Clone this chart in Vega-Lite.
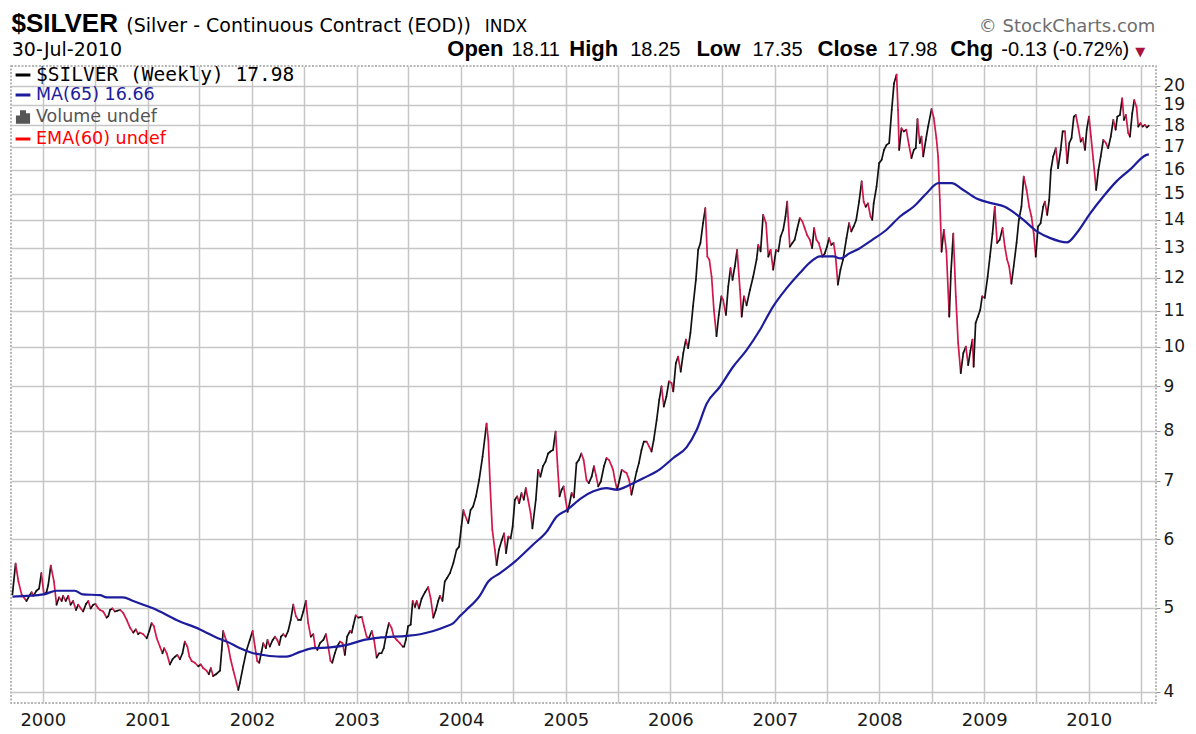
{
  "$schema": "https://vega.github.io/schema/vega-lite/v6.json",
  "autosize": {"type": "none"},
  "width": 1145,
  "height": 637,
  "padding": {"left": 11, "top": 66, "right": 40, "bottom": 31},
  "background": "white",
  "params": [
    {"name": "hdr", "value": {
      "1999-09-12": "$SILVER",
      "2000-10-17": "(Silver - Continuous Contract (EOD))",
      "2004-03-22": "INDX",
      "2010-08-20": "© StockCharts.com",
      "1999-09-13": "30-Jul-2010",
      "2003-11-12": "Open",
      "2004-06-23": "18.11",
      "2005-01-11": "High",
      "2005-08-12": "18.25",
      "2006-03-31": "Low",
      "2006-10-13": "17.35",
      "2007-05-28": "Close",
      "2008-01-27": "17.98",
      "2008-09-03": "Chg",
      "2009-02-28": "-0.13 (-0.72%)",
      "2010-06-11": "▼"
    }}
  ],
  "datasets": {
    "price": [
      {"date": "1999-09-17", "close": 5.18}, {"date": "1999-09-28", "close": 5.62}, {"date": "1999-10-08", "close": 5.36}, {"date": "1999-10-19", "close": 5.18},
      {"date": "1999-11-05", "close": 5.09}, {"date": "1999-11-15", "close": 5.16}, {"date": "1999-11-23", "close": 5.21}, {"date": "1999-11-29", "close": 5.16},
      {"date": "1999-12-10", "close": 5.23}, {"date": "1999-12-19", "close": 5.26}, {"date": "1999-12-27", "close": 5.48}, {"date": "2000-01-05", "close": 5.18},
      {"date": "2000-01-14", "close": 5.21}, {"date": "2000-01-20", "close": 5.31}, {"date": "2000-01-29", "close": 5.59}, {"date": "2000-02-09", "close": 5.36},
      {"date": "2000-02-18", "close": 5.04}, {"date": "2000-02-27", "close": 5.14}, {"date": "2000-03-07", "close": 5.09}, {"date": "2000-03-12", "close": 5.16},
      {"date": "2000-03-21", "close": 5.09}, {"date": "2000-03-30", "close": 5.16}, {"date": "2000-04-07", "close": 5.04}, {"date": "2000-04-16", "close": 5.09},
      {"date": "2000-04-26", "close": 4.97}, {"date": "2000-05-04", "close": 5.04}, {"date": "2000-05-13", "close": 4.99}, {"date": "2000-05-21", "close": 4.95},
      {"date": "2000-05-31", "close": 5.05}, {"date": "2000-06-08", "close": 5.09}, {"date": "2000-06-16", "close": 4.99}, {"date": "2000-06-25", "close": 5.04},
      {"date": "2000-07-03", "close": 5.05}, {"date": "2000-07-13", "close": 4.99}, {"date": "2000-07-19", "close": 4.97}, {"date": "2000-07-30", "close": 4.95},
      {"date": "2000-08-11", "close": 4.87}, {"date": "2000-08-17", "close": 4.89}, {"date": "2000-08-23", "close": 4.97}, {"date": "2000-08-31", "close": 4.99},
      {"date": "2000-09-09", "close": 4.95}, {"date": "2000-09-17", "close": 4.96}, {"date": "2000-09-27", "close": 4.97}, {"date": "2000-10-08", "close": 4.93},
      {"date": "2000-10-20", "close": 4.84}, {"date": "2000-11-01", "close": 4.74}, {"date": "2000-11-12", "close": 4.68}, {"date": "2000-11-21", "close": 4.72},
      {"date": "2000-11-29", "close": 4.66}, {"date": "2000-12-05", "close": 4.68}, {"date": "2000-12-17", "close": 4.66}, {"date": "2000-12-29", "close": 4.61},
      {"date": "2001-01-07", "close": 4.70}, {"date": "2001-01-15", "close": 4.80}, {"date": "2001-01-23", "close": 4.76}, {"date": "2001-02-02", "close": 4.61},
      {"date": "2001-02-13", "close": 4.51}, {"date": "2001-02-22", "close": 4.43}, {"date": "2001-02-28", "close": 4.49}, {"date": "2001-03-09", "close": 4.43},
      {"date": "2001-03-20", "close": 4.30}, {"date": "2001-03-29", "close": 4.36}, {"date": "2001-04-07", "close": 4.39}, {"date": "2001-04-15", "close": 4.41},
      {"date": "2001-04-24", "close": 4.36}, {"date": "2001-05-03", "close": 4.43}, {"date": "2001-05-11", "close": 4.57}, {"date": "2001-05-20", "close": 4.51},
      {"date": "2001-05-27", "close": 4.39}, {"date": "2001-06-04", "close": 4.34}, {"date": "2001-06-15", "close": 4.32}, {"date": "2001-06-27", "close": 4.28},
      {"date": "2001-07-06", "close": 4.30}, {"date": "2001-07-14", "close": 4.26}, {"date": "2001-07-26", "close": 4.23}, {"date": "2001-08-03", "close": 4.19},
      {"date": "2001-08-10", "close": 4.26}, {"date": "2001-08-18", "close": 4.17}, {"date": "2001-08-28", "close": 4.19}, {"date": "2001-09-11", "close": 4.23},
      {"date": "2001-09-17", "close": 4.47}, {"date": "2001-09-22", "close": 4.70}, {"date": "2001-10-02", "close": 4.59}, {"date": "2001-10-10", "close": 4.51},
      {"date": "2001-10-18", "close": 4.36}, {"date": "2001-10-27", "close": 4.24}, {"date": "2001-11-08", "close": 4.09}, {"date": "2001-11-14", "close": 4.02},
      {"date": "2001-11-19", "close": 4.09}, {"date": "2001-12-01", "close": 4.28}, {"date": "2001-12-13", "close": 4.47}, {"date": "2001-12-24", "close": 4.59},
      {"date": "2002-01-03", "close": 4.70}, {"date": "2002-01-11", "close": 4.51}, {"date": "2002-01-19", "close": 4.34}, {"date": "2002-01-26", "close": 4.32},
      {"date": "2002-02-03", "close": 4.45}, {"date": "2002-02-09", "close": 4.55}, {"date": "2002-02-18", "close": 4.49}, {"date": "2002-02-24", "close": 4.59},
      {"date": "2002-03-04", "close": 4.51}, {"date": "2002-03-14", "close": 4.59}, {"date": "2002-03-22", "close": 4.63}, {"date": "2002-03-30", "close": 4.59},
      {"date": "2002-04-06", "close": 4.53}, {"date": "2002-04-12", "close": 4.63}, {"date": "2002-04-20", "close": 4.66}, {"date": "2002-04-28", "close": 4.63},
      {"date": "2002-05-07", "close": 4.70}, {"date": "2002-05-16", "close": 4.84}, {"date": "2002-05-25", "close": 5.04}, {"date": "2002-06-03", "close": 4.89},
      {"date": "2002-06-11", "close": 4.84}, {"date": "2002-06-20", "close": 4.84}, {"date": "2002-06-29", "close": 4.95}, {"date": "2002-07-08", "close": 5.09},
      {"date": "2002-07-16", "close": 4.80}, {"date": "2002-07-25", "close": 4.63}, {"date": "2002-08-03", "close": 4.66}, {"date": "2002-08-09", "close": 4.51},
      {"date": "2002-08-17", "close": 4.47}, {"date": "2002-08-26", "close": 4.55}, {"date": "2002-09-07", "close": 4.59}, {"date": "2002-09-16", "close": 4.66},
      {"date": "2002-09-24", "close": 4.51}, {"date": "2002-10-02", "close": 4.34}, {"date": "2002-10-08", "close": 4.32}, {"date": "2002-10-17", "close": 4.43},
      {"date": "2002-10-25", "close": 4.51}, {"date": "2002-11-04", "close": 4.57}, {"date": "2002-11-13", "close": 4.55}, {"date": "2002-11-21", "close": 4.41},
      {"date": "2002-11-29", "close": 4.63}, {"date": "2002-12-09", "close": 4.70}, {"date": "2002-12-15", "close": 4.68}, {"date": "2002-12-20", "close": 4.76},
      {"date": "2002-12-29", "close": 4.90}, {"date": "2003-01-07", "close": 4.87}, {"date": "2003-01-19", "close": 4.88}, {"date": "2003-01-27", "close": 4.76},
      {"date": "2003-02-05", "close": 4.63}, {"date": "2003-02-13", "close": 4.61}, {"date": "2003-02-23", "close": 4.70}, {"date": "2003-03-03", "close": 4.59},
      {"date": "2003-03-12", "close": 4.38}, {"date": "2003-03-21", "close": 4.43}, {"date": "2003-03-29", "close": 4.43}, {"date": "2003-04-06", "close": 4.49},
      {"date": "2003-04-16", "close": 4.68}, {"date": "2003-04-24", "close": 4.80}, {"date": "2003-05-03", "close": 4.74}, {"date": "2003-05-11", "close": 4.63},
      {"date": "2003-05-21", "close": 4.59}, {"date": "2003-06-01", "close": 4.55}, {"date": "2003-06-11", "close": 4.51}, {"date": "2003-06-16", "close": 4.51},
      {"date": "2003-06-22", "close": 4.59}, {"date": "2003-06-30", "close": 4.76}, {"date": "2003-07-09", "close": 4.78}, {"date": "2003-07-16", "close": 5.09},
      {"date": "2003-07-24", "close": 5.01}, {"date": "2003-07-30", "close": 5.09}, {"date": "2003-08-07", "close": 4.99}, {"date": "2003-08-16", "close": 5.12},
      {"date": "2003-08-28", "close": 5.21}, {"date": "2003-09-08", "close": 5.28}, {"date": "2003-09-17", "close": 5.12}, {"date": "2003-09-26", "close": 4.87},
      {"date": "2003-10-05", "close": 4.97}, {"date": "2003-10-13", "close": 5.09}, {"date": "2003-10-19", "close": 5.16}, {"date": "2003-10-28", "close": 5.09},
      {"date": "2003-11-05", "close": 5.36}, {"date": "2003-11-13", "close": 5.41}, {"date": "2003-11-23", "close": 5.48}, {"date": "2003-12-05", "close": 5.63},
      {"date": "2003-12-16", "close": 5.83}, {"date": "2003-12-25", "close": 5.88}, {"date": "2004-01-02", "close": 6.20}, {"date": "2004-01-09", "close": 6.48},
      {"date": "2004-01-14", "close": 6.40}, {"date": "2004-01-26", "close": 6.26}, {"date": "2004-02-03", "close": 6.48}, {"date": "2004-02-12", "close": 6.54},
      {"date": "2004-02-22", "close": 6.72}, {"date": "2004-03-04", "close": 7.02}, {"date": "2004-03-16", "close": 7.47}, {"date": "2004-03-30", "close": 8.15},
      {"date": "2004-04-05", "close": 7.81}, {"date": "2004-04-11", "close": 6.96}, {"date": "2004-04-19", "close": 6.15}, {"date": "2004-04-28", "close": 5.83},
      {"date": "2004-05-04", "close": 5.60}, {"date": "2004-05-12", "close": 5.83}, {"date": "2004-05-22", "close": 5.98}, {"date": "2004-05-30", "close": 6.09},
      {"date": "2004-06-06", "close": 5.78}, {"date": "2004-06-14", "close": 6.04}, {"date": "2004-06-22", "close": 6.01}, {"date": "2004-06-29", "close": 6.20},
      {"date": "2004-07-07", "close": 6.66}, {"date": "2004-07-15", "close": 6.72}, {"date": "2004-07-22", "close": 6.60}, {"date": "2004-07-30", "close": 6.78},
      {"date": "2004-08-07", "close": 6.66}, {"date": "2004-08-14", "close": 6.87}, {"date": "2004-08-22", "close": 6.66}, {"date": "2004-08-31", "close": 6.42},
      {"date": "2004-09-06", "close": 6.17}, {"date": "2004-09-18", "close": 6.66}, {"date": "2004-09-26", "close": 7.21}, {"date": "2004-10-04", "close": 7.08},
      {"date": "2004-10-13", "close": 7.28}, {"date": "2004-10-22", "close": 7.37}, {"date": "2004-10-31", "close": 7.53}, {"date": "2004-11-08", "close": 7.57},
      {"date": "2004-11-17", "close": 7.60}, {"date": "2004-11-26", "close": 7.98}, {"date": "2004-12-03", "close": 7.28}, {"date": "2004-12-10", "close": 6.72},
      {"date": "2004-12-17", "close": 6.84}, {"date": "2004-12-24", "close": 6.90}, {"date": "2004-12-31", "close": 6.66}, {"date": "2005-01-07", "close": 6.45},
      {"date": "2005-01-14", "close": 6.60}, {"date": "2005-01-21", "close": 6.78}, {"date": "2005-01-29", "close": 6.70}, {"date": "2005-02-07", "close": 7.34},
      {"date": "2005-02-15", "close": 7.40}, {"date": "2005-02-24", "close": 7.53}, {"date": "2005-03-04", "close": 7.40}, {"date": "2005-03-14", "close": 7.02},
      {"date": "2005-03-22", "close": 6.96}, {"date": "2005-04-01", "close": 7.08}, {"date": "2005-04-09", "close": 7.28}, {"date": "2005-04-16", "close": 7.11},
      {"date": "2005-04-24", "close": 6.90}, {"date": "2005-05-03", "close": 6.99}, {"date": "2005-05-14", "close": 7.28}, {"date": "2005-05-23", "close": 7.44},
      {"date": "2005-06-01", "close": 7.40}, {"date": "2005-06-10", "close": 7.28}, {"date": "2005-06-15", "close": 7.21}, {"date": "2005-06-21", "close": 7.02},
      {"date": "2005-06-29", "close": 6.84}, {"date": "2005-07-06", "close": 6.99}, {"date": "2005-07-15", "close": 7.21}, {"date": "2005-07-23", "close": 7.18},
      {"date": "2005-08-01", "close": 7.15}, {"date": "2005-08-10", "close": 7.02}, {"date": "2005-08-18", "close": 6.75}, {"date": "2005-08-27", "close": 6.96},
      {"date": "2005-09-05", "close": 7.18}, {"date": "2005-09-13", "close": 7.34}, {"date": "2005-09-22", "close": 7.60}, {"date": "2005-09-30", "close": 7.77},
      {"date": "2005-10-10", "close": 7.77}, {"date": "2005-10-19", "close": 7.67}, {"date": "2005-10-27", "close": 7.57}, {"date": "2005-11-04", "close": 7.81},
      {"date": "2005-11-14", "close": 8.23}, {"date": "2005-11-23", "close": 8.68}, {"date": "2005-12-01", "close": 9.00}, {"date": "2005-12-09", "close": 8.53},
      {"date": "2005-12-18", "close": 8.76}, {"date": "2005-12-27", "close": 9.12}, {"date": "2006-01-05", "close": 9.08}, {"date": "2006-01-11", "close": 8.88},
      {"date": "2006-01-20", "close": 9.57}, {"date": "2006-01-28", "close": 9.74}, {"date": "2006-02-06", "close": 9.36}, {"date": "2006-02-15", "close": 9.83},
      {"date": "2006-02-24", "close": 10.19}, {"date": "2006-03-04", "close": 9.96}, {"date": "2006-03-12", "close": 10.37}, {"date": "2006-03-21", "close": 11.13},
      {"date": "2006-03-31", "close": 11.94}, {"date": "2006-04-08", "close": 12.93}, {"date": "2006-04-16", "close": 13.17}, {"date": "2006-04-25", "close": 13.88},
      {"date": "2006-05-03", "close": 14.45}, {"date": "2006-05-10", "close": 12.70}, {"date": "2006-05-17", "close": 12.60}, {"date": "2006-05-25", "close": 12.04},
      {"date": "2006-06-02", "close": 11.02}, {"date": "2006-06-11", "close": 10.28}, {"date": "2006-06-19", "close": 10.88}, {"date": "2006-06-28", "close": 11.43},
      {"date": "2006-07-04", "close": 11.33}, {"date": "2006-07-14", "close": 10.88}, {"date": "2006-07-22", "close": 11.73}, {"date": "2006-07-30", "close": 12.32},
      {"date": "2006-08-06", "close": 11.94}, {"date": "2006-08-14", "close": 12.38}, {"date": "2006-08-22", "close": 12.93}, {"date": "2006-09-01", "close": 11.63},
      {"date": "2006-09-07", "close": 10.83}, {"date": "2006-09-15", "close": 11.43}, {"date": "2006-09-24", "close": 11.16}, {"date": "2006-10-06", "close": 11.63},
      {"date": "2006-10-17", "close": 12.04}, {"date": "2006-10-29", "close": 12.60}, {"date": "2006-11-04", "close": 13.10}, {"date": "2006-11-12", "close": 12.88},
      {"date": "2006-11-21", "close": 14.19}, {"date": "2006-12-01", "close": 13.88}, {"date": "2006-12-09", "close": 12.70}, {"date": "2006-12-17", "close": 12.93},
      {"date": "2006-12-26", "close": 12.27}, {"date": "2007-01-05", "close": 12.93}, {"date": "2007-01-13", "close": 12.88}, {"date": "2007-01-21", "close": 13.40},
      {"date": "2007-01-30", "close": 13.64}, {"date": "2007-02-07", "close": 14.13}, {"date": "2007-02-13", "close": 14.70}, {"date": "2007-02-22", "close": 13.04},
      {"date": "2007-03-03", "close": 13.17}, {"date": "2007-03-11", "close": 13.28}, {"date": "2007-03-19", "close": 13.64}, {"date": "2007-03-29", "close": 14.07},
      {"date": "2007-04-07", "close": 13.94}, {"date": "2007-04-15", "close": 13.70}, {"date": "2007-04-23", "close": 13.46}, {"date": "2007-05-03", "close": 13.28},
      {"date": "2007-05-11", "close": 12.99}, {"date": "2007-05-18", "close": 13.70}, {"date": "2007-05-26", "close": 13.28}, {"date": "2007-06-03", "close": 13.17},
      {"date": "2007-06-10", "close": 12.93}, {"date": "2007-06-16", "close": 12.70}, {"date": "2007-06-24", "close": 12.81}, {"date": "2007-07-02", "close": 13.04},
      {"date": "2007-07-09", "close": 13.34}, {"date": "2007-07-17", "close": 13.10}, {"date": "2007-07-25", "close": 13.17}, {"date": "2007-08-01", "close": 12.70},
      {"date": "2007-08-09", "close": 11.79}, {"date": "2007-08-18", "close": 12.27}, {"date": "2007-08-27", "close": 12.60}, {"date": "2007-09-08", "close": 13.34},
      {"date": "2007-09-17", "close": 13.88}, {"date": "2007-09-25", "close": 13.58}, {"date": "2007-10-03", "close": 13.76}, {"date": "2007-10-12", "close": 14.00},
      {"date": "2007-10-22", "close": 14.70}, {"date": "2007-10-31", "close": 15.51}, {"date": "2007-11-07", "close": 14.70}, {"date": "2007-11-14", "close": 14.50},
      {"date": "2007-11-22", "close": 14.63}, {"date": "2007-12-01", "close": 14.13}, {"date": "2007-12-07", "close": 14.00}, {"date": "2007-12-12", "close": 14.63},
      {"date": "2007-12-22", "close": 15.30}, {"date": "2007-12-31", "close": 16.28}, {"date": "2008-01-09", "close": 16.43}, {"date": "2008-01-17", "close": 16.86},
      {"date": "2008-01-26", "close": 17.09}, {"date": "2008-02-04", "close": 17.17}, {"date": "2008-02-13", "close": 18.75}, {"date": "2008-02-21", "close": 20.12},
      {"date": "2008-03-01", "close": 20.60}, {"date": "2008-03-06", "close": 18.75}, {"date": "2008-03-10", "close": 16.86}, {"date": "2008-03-18", "close": 17.86},
      {"date": "2008-03-26", "close": 17.71}, {"date": "2008-04-04", "close": 17.79}, {"date": "2008-04-13", "close": 17.09}, {"date": "2008-04-22", "close": 16.50},
      {"date": "2008-04-30", "close": 16.86}, {"date": "2008-05-07", "close": 16.94}, {"date": "2008-05-13", "close": 18.30}, {"date": "2008-05-21", "close": 17.17},
      {"date": "2008-05-27", "close": 17.47}, {"date": "2008-06-02", "close": 16.57}, {"date": "2008-06-11", "close": 17.32}, {"date": "2008-06-19", "close": 17.94},
      {"date": "2008-07-01", "close": 18.79}, {"date": "2008-07-09", "close": 18.35}, {"date": "2008-07-18", "close": 17.39}, {"date": "2008-07-24", "close": 16.57},
      {"date": "2008-07-30", "close": 14.77}, {"date": "2008-08-05", "close": 12.87}, {"date": "2008-08-13", "close": 13.64}, {"date": "2008-08-22", "close": 12.87},
      {"date": "2008-09-01", "close": 10.83}, {"date": "2008-09-07", "close": 12.20}, {"date": "2008-09-15", "close": 13.50}, {"date": "2008-09-24", "close": 11.42},
      {"date": "2008-10-02", "close": 10.10}, {"date": "2008-10-11", "close": 9.32}, {"date": "2008-10-20", "close": 9.83}, {"date": "2008-10-29", "close": 10.00},
      {"date": "2008-11-06", "close": 9.52}, {"date": "2008-11-14", "close": 9.90}, {"date": "2008-11-21", "close": 10.19}, {"date": "2008-11-25", "close": 9.48},
      {"date": "2008-12-02", "close": 10.65}, {"date": "2008-12-10", "close": 10.83}, {"date": "2008-12-18", "close": 11.02}, {"date": "2008-12-25", "close": 11.43},
      {"date": "2009-01-03", "close": 11.38}, {"date": "2009-01-13", "close": 12.04}, {"date": "2009-01-21", "close": 12.70}, {"date": "2009-01-30", "close": 13.50},
      {"date": "2009-02-07", "close": 14.50}, {"date": "2009-02-15", "close": 13.17}, {"date": "2009-02-24", "close": 13.28}, {"date": "2009-03-06", "close": 13.70},
      {"date": "2009-03-14", "close": 13.04}, {"date": "2009-03-22", "close": 12.60}, {"date": "2009-03-29", "close": 12.38}, {"date": "2009-04-06", "close": 11.82},
      {"date": "2009-04-14", "close": 12.38}, {"date": "2009-04-24", "close": 13.17}, {"date": "2009-05-02", "close": 14.00}, {"date": "2009-05-11", "close": 14.50},
      {"date": "2009-05-19", "close": 15.71}, {"date": "2009-05-29", "close": 15.16}, {"date": "2009-06-07", "close": 14.50}, {"date": "2009-06-15", "close": 14.13},
      {"date": "2009-06-23", "close": 13.50}, {"date": "2009-06-30", "close": 12.70}, {"date": "2009-07-08", "close": 13.76}, {"date": "2009-07-17", "close": 13.88},
      {"date": "2009-07-26", "close": 14.50}, {"date": "2009-08-01", "close": 14.70}, {"date": "2009-08-09", "close": 14.19}, {"date": "2009-08-16", "close": 14.77},
      {"date": "2009-08-22", "close": 15.99}, {"date": "2009-08-30", "close": 16.57}, {"date": "2009-09-08", "close": 16.94}, {"date": "2009-09-16", "close": 16.06},
      {"date": "2009-09-25", "close": 16.86}, {"date": "2009-10-02", "close": 17.71}, {"date": "2009-10-10", "close": 17.71}, {"date": "2009-10-18", "close": 16.28},
      {"date": "2009-10-25", "close": 17.17}, {"date": "2009-11-02", "close": 17.40}, {"date": "2009-11-10", "close": 18.42}, {"date": "2009-11-17", "close": 18.50},
      {"date": "2009-11-25", "close": 17.94}, {"date": "2009-12-04", "close": 17.24}, {"date": "2009-12-11", "close": 17.40}, {"date": "2009-12-19", "close": 16.86},
      {"date": "2009-12-25", "close": 17.79}, {"date": "2010-01-02", "close": 18.42}, {"date": "2010-01-09", "close": 17.47}, {"date": "2010-01-17", "close": 16.43},
      {"date": "2010-01-27", "close": 15.16}, {"date": "2010-02-04", "close": 15.99}, {"date": "2010-02-12", "close": 16.57}, {"date": "2010-02-21", "close": 17.32},
      {"date": "2010-03-02", "close": 17.17}, {"date": "2010-03-10", "close": 16.94}, {"date": "2010-03-19", "close": 17.47}, {"date": "2010-03-28", "close": 18.26},
      {"date": "2010-04-05", "close": 17.79}, {"date": "2010-04-11", "close": 18.42}, {"date": "2010-04-20", "close": 18.50}, {"date": "2010-04-28", "close": 19.34},
      {"date": "2010-05-04", "close": 18.26}, {"date": "2010-05-11", "close": 18.50}, {"date": "2010-05-19", "close": 17.63}, {"date": "2010-05-25", "close": 17.47},
      {"date": "2010-06-02", "close": 18.58}, {"date": "2010-06-09", "close": 19.25}, {"date": "2010-06-17", "close": 18.90}, {"date": "2010-06-23", "close": 17.94},
      {"date": "2010-07-01", "close": 18.10}, {"date": "2010-07-08", "close": 17.94}, {"date": "2010-07-16", "close": 18.02}, {"date": "2010-07-23", "close": 17.90},
      {"date": "2010-07-30", "close": 17.98}
    ],
    "ma": [
      {"date": "1999-09-17", "ma": 5.15}, {"date": "1999-11-05", "ma": 5.16}, {"date": "2000-01-04", "ma": 5.18}, {"date": "2000-02-18", "ma": 5.23},
      {"date": "2000-04-22", "ma": 5.23}, {"date": "2000-05-20", "ma": 5.18}, {"date": "2000-07-19", "ma": 5.17}, {"date": "2000-08-11", "ma": 5.14},
      {"date": "2000-10-07", "ma": 5.14}, {"date": "2000-11-12", "ma": 5.09}, {"date": "2000-12-17", "ma": 5.04}, {"date": "2001-02-02", "ma": 4.97},
      {"date": "2001-04-12", "ma": 4.84}, {"date": "2001-07-03", "ma": 4.72}, {"date": "2001-09-11", "ma": 4.60}, {"date": "2001-10-04", "ma": 4.57},
      {"date": "2001-11-20", "ma": 4.49}, {"date": "2002-01-05", "ma": 4.43}, {"date": "2002-02-09", "ma": 4.41}, {"date": "2002-04-08", "ma": 4.39},
      {"date": "2002-05-01", "ma": 4.39}, {"date": "2002-06-20", "ma": 4.45}, {"date": "2002-08-03", "ma": 4.49}, {"date": "2002-10-01", "ma": 4.50},
      {"date": "2002-11-29", "ma": 4.53}, {"date": "2003-01-27", "ma": 4.59}, {"date": "2003-03-26", "ma": 4.62}, {"date": "2003-06-25", "ma": 4.64},
      {"date": "2003-08-11", "ma": 4.66}, {"date": "2003-09-26", "ma": 4.70}, {"date": "2003-11-11", "ma": 4.76}, {"date": "2003-12-05", "ma": 4.80},
      {"date": "2003-12-28", "ma": 4.89}, {"date": "2004-01-19", "ma": 4.97}, {"date": "2004-03-06", "ma": 5.16}, {"date": "2004-04-05", "ma": 5.36},
      {"date": "2004-05-16", "ma": 5.48}, {"date": "2004-07-07", "ma": 5.65}, {"date": "2004-09-08", "ma": 5.91}, {"date": "2004-10-26", "ma": 6.12},
      {"date": "2004-11-30", "ma": 6.37}, {"date": "2005-01-04", "ma": 6.48}, {"date": "2005-02-24", "ma": 6.69}, {"date": "2005-04-07", "ma": 6.81},
      {"date": "2005-05-23", "ma": 6.87}, {"date": "2005-06-27", "ma": 6.84}, {"date": "2005-08-13", "ma": 6.93}, {"date": "2005-09-28", "ma": 7.05},
      {"date": "2005-11-25", "ma": 7.22}, {"date": "2006-01-11", "ma": 7.44}, {"date": "2006-02-27", "ma": 7.66}, {"date": "2006-04-03", "ma": 8.02},
      {"date": "2006-05-08", "ma": 8.60}, {"date": "2006-06-23", "ma": 8.99}, {"date": "2006-08-08", "ma": 9.48}, {"date": "2006-09-24", "ma": 9.91},
      {"date": "2006-11-10", "ma": 10.46}, {"date": "2006-12-26", "ma": 11.13}, {"date": "2007-02-11", "ma": 11.68}, {"date": "2007-03-29", "ma": 12.16},
      {"date": "2007-05-09", "ma": 12.55}, {"date": "2007-06-07", "ma": 12.71}, {"date": "2007-07-24", "ma": 12.71}, {"date": "2007-08-18", "ma": 12.64},
      {"date": "2007-09-18", "ma": 12.81}, {"date": "2007-10-23", "ma": 12.98}, {"date": "2007-12-07", "ma": 13.28}, {"date": "2008-01-26", "ma": 13.64},
      {"date": "2008-03-13", "ma": 14.13}, {"date": "2008-04-29", "ma": 14.50}, {"date": "2008-06-14", "ma": 15.03}, {"date": "2008-07-25", "ma": 15.44},
      {"date": "2008-09-09", "ma": 15.44}, {"date": "2008-10-20", "ma": 15.16}, {"date": "2008-12-05", "ma": 14.82}, {"date": "2009-01-21", "ma": 14.65},
      {"date": "2009-03-14", "ma": 14.50}, {"date": "2009-05-18", "ma": 14.00}, {"date": "2009-07-04", "ma": 13.58}, {"date": "2009-08-20", "ma": 13.34},
      {"date": "2009-10-17", "ma": 13.19}, {"date": "2009-11-20", "ma": 13.52}, {"date": "2010-01-05", "ma": 14.23}, {"date": "2010-02-21", "ma": 14.90},
      {"date": "2010-04-08", "ma": 15.51}, {"date": "2010-05-25", "ma": 16.00}, {"date": "2010-07-22", "ma": 16.64}, {"date": "2010-07-30", "ma": 16.66}
    ]
  },
  "resolve": {"axis": {"x": "independent"}},
  "layer": [
    {
      "data": {"name": "price", "format": {"parse": {"date": "date"}}},
      "transform": [
        {"window": [{"op": "lag", "field": "close", "as": "prev"}, {"op": "lag", "field": "date", "as": "prevDate"}], "sort": [{"field": "date", "order": "ascending"}]},
        {"filter": "datum.prev != null"}
      ],
      "mark": {"type": "rule", "strokeWidth": 1.7, "strokeCap": "round"},
      "encoding": {
        "x": {
          "field": "prevDate", "type": "temporal",
          "scale": {"domain": [{"year": 1999, "month": 9, "date": 12, "utc": true}, {"year": 2010, "month": 8, "date": 24, "utc": true}], "nice": false},
          "axis": {
            "orient": "bottom", "title": null,
            "values": [
              {"year": 2000, "month": 1, "date": 1, "utc": true}, {"year": 2000, "month": 7, "date": 1, "utc": true},
              {"year": 2001, "month": 1, "date": 1, "utc": true}, {"year": 2001, "month": 7, "date": 1, "utc": true},
              {"year": 2002, "month": 1, "date": 1, "utc": true}, {"year": 2002, "month": 7, "date": 1, "utc": true},
              {"year": 2003, "month": 1, "date": 1, "utc": true}, {"year": 2003, "month": 7, "date": 1, "utc": true},
              {"year": 2004, "month": 1, "date": 1, "utc": true}, {"year": 2004, "month": 7, "date": 1, "utc": true},
              {"year": 2005, "month": 1, "date": 1, "utc": true}, {"year": 2005, "month": 7, "date": 1, "utc": true},
              {"year": 2006, "month": 1, "date": 1, "utc": true}, {"year": 2006, "month": 7, "date": 1, "utc": true},
              {"year": 2007, "month": 1, "date": 1, "utc": true}, {"year": 2007, "month": 7, "date": 1, "utc": true},
              {"year": 2008, "month": 1, "date": 1, "utc": true}, {"year": 2008, "month": 7, "date": 1, "utc": true},
              {"year": 2009, "month": 1, "date": 1, "utc": true}, {"year": 2009, "month": 7, "date": 1, "utc": true},
              {"year": 2010, "month": 1, "date": 1, "utc": true}, {"year": 2010, "month": 7, "date": 1, "utc": true}
            ],
            "labelExpr": "utcFormat(datum.value, '%m') == '01' ? utcFormat(datum.value, '%Y') : ''",
            "grid": true, "gridColor": "#c6c6c6", "gridWidth": 1.5,
            "ticks": false, "domain": false,
            "labelFont": "DejaVu Sans", "labelFontSize": 18, "labelColor": "#1a1a1a",
            "labelPadding": 8, "labelOverlap": false, "labelFlush": false, "labelBound": false
          }
        },
        "x2": {"field": "date"},
        "y": {
          "field": "prev", "type": "quantitative",
          "scale": {"type": "log", "domain": [3.882, 21.07], "nice": false, "zero": false},
          "axis": {
            "orient": "right", "title": null,
            "values": [4, 5, 6, 7, 8, 9, 10, 11, 12, 13, 14, 15, 16, 17, 18, 19, 20],
            "labelExpr": "format(datum.value, 'd')",
            "grid": true, "gridColor": "#c6c6c6", "gridWidth": 1.5,
            "ticks": true, "tickSize": 4, "tickColor": "#9a9a9a",
            "domain": false,
            "labelFont": "DejaVu Sans", "labelFontSize": 17, "labelColor": "#1a1a1a",
            "labelPadding": 3, "labelOverlap": false, "labelFlush": false, "labelBound": false
          }
        },
        "y2": {"field": "close"},
        "color": {"condition": {"test": "datum.close >= datum.prev", "value": "#111111"}, "value": "#d2184a"}
      }
    },
    {
      "data": {"name": "ma", "format": {"parse": {"date": "date"}}},
      "mark": {"type": "line", "strokeWidth": 2.2, "interpolate": "monotone"},
      "encoding": {
        "x": {
          "field": "date", "type": "temporal",
          "scale": {"domain": [{"year": 1999, "month": 9, "date": 12, "utc": true}, {"year": 2010, "month": 8, "date": 24, "utc": true}], "nice": false},
          "axis": {
            "orient": "top", "title": null,
            "values": [
              {"year": 1999, "month": 9, "date": 12, "utc": true}, {"year": 2000, "month": 10, "date": 17, "utc": true},
              {"year": 2004, "month": 3, "date": 22, "utc": true}, {"year": 2010, "month": 8, "date": 20, "utc": true},
              {"year": 1999, "month": 9, "date": 13, "utc": true}, {"year": 2003, "month": 11, "date": 12, "utc": true},
              {"year": 2004, "month": 6, "date": 23, "utc": true}, {"year": 2005, "month": 1, "date": 11, "utc": true},
              {"year": 2005, "month": 8, "date": 12, "utc": true}, {"year": 2006, "month": 3, "date": 31, "utc": true},
              {"year": 2006, "month": 10, "date": 13, "utc": true}, {"year": 2007, "month": 5, "date": 28, "utc": true},
              {"year": 2008, "month": 1, "date": 27, "utc": true}, {"year": 2008, "month": 9, "date": 3, "utc": true},
              {"year": 2009, "month": 2, "date": 28, "utc": true}, {"year": 2010, "month": 6, "date": 11, "utc": true}
            ],
            "labelExpr": "hdr[utcFormat(datum.value, '%Y-%m-%d')] || ''",
            "grid": false, "ticks": false, "domain": false,
            "labelBaseline": "alphabetic",
            "labelOverlap": false, "labelFlush": false, "labelBound": false, "labelLimit": 800,
            "labelPadding": {
              "condition": {"test": "indexof(['1999-09-12','2000-10-17','2004-03-22','2010-08-20'], utcFormat(datum.value, '%Y-%m-%d')) >= 0", "value": 35},
              "value": 11
            },
            "labelAlign": {
              "condition": {"test": "utcFormat(datum.value, '%Y-%m-%d') == '2010-08-20'", "value": "right"},
              "value": "left"
            },
            "labelFontWeight": {
              "condition": {"test": "indexof(['1999-09-12','2003-11-12','2005-01-11','2006-03-31','2007-05-28','2008-09-03'], utcFormat(datum.value, '%Y-%m-%d')) >= 0", "value": "bold"},
              "value": "normal"
            },
            "labelFont": {
              "condition": {"test": "indexof(['2000-10-17','2004-03-22','2010-08-20','1999-09-13','2010-06-11'], utcFormat(datum.value, '%Y-%m-%d')) >= 0", "value": "DejaVu Sans"},
              "value": "Liberation Sans"
            },
            "labelFontSize": {
              "condition": [
                {"test": "utcFormat(datum.value, '%Y-%m-%d') == '1999-09-12'", "value": 26},
                {"test": "indexof(['2003-11-12','2005-01-11','2006-03-31','2007-05-28','2008-09-03'], utcFormat(datum.value, '%Y-%m-%d')) >= 0", "value": 22},
                {"test": "indexof(['2000-10-17','1999-09-13'], utcFormat(datum.value, '%Y-%m-%d')) >= 0", "value": 19},
                {"test": "utcFormat(datum.value, '%Y-%m-%d') == '2004-03-22'", "value": 17},
                {"test": "utcFormat(datum.value, '%Y-%m-%d') == '2010-08-20'", "value": 18},
                {"test": "utcFormat(datum.value, '%Y-%m-%d') == '2010-06-11'", "value": 13}
              ],
              "value": 20
            },
            "labelColor": {
              "condition": [
                {"test": "utcFormat(datum.value, '%Y-%m-%d') == '2010-08-20'", "value": "#6e6e6e"},
                {"test": "utcFormat(datum.value, '%Y-%m-%d') == '2010-06-11'", "value": "#a8123c"}
              ],
              "value": "#000000"
            }
          }
        },
        "y": {
          "field": "ma", "type": "quantitative",
          "scale": {"type": "log", "domain": [3.882, 21.07], "nice": false, "zero": false}
        },
        "color": {
          "datum": "MA(65) 16.66", "type": "nominal",
          "scale": {
            "domain": ["$SILVER (Weekly) 17.98", "MA(65) 16.66", "Volume undef", "EMA(60) undef"],
            "range": ["#000000", "#1c1c9c", "#555555", "#ff0000"]
          },
          "legend": {
            "title": null, "orient": "none", "legendX": 3, "legendY": 0,
            "direction": "vertical", "padding": 0, "rowPadding": 1,
            "symbolType": "stroke", "symbolSize": 220, "symbolStrokeWidth": 3,
            "labelFontSize": 17.5, "labelFont": "DejaVu Sans", "labelLimit": 500, "labelOffset": 4,
            "encode": {
              "symbols": {
                "update": {
                  "shape": {"signal": "datum.value === 'Volume undef' ? 'M-0.75,0.7V0H-0.35V0.7ZM-0.2,0.7V-0.7H0.2V0.7ZM0.35,0.7V-0.3H0.75V0.7Z' : 'stroke'"},
                  "fill": {"signal": "datum.value === 'Volume undef' ? '#555555' : 'transparent'"},
                  "stroke": {"signal": "datum.value === 'Volume undef' ? 'transparent' : datum.value === 'MA(65) 16.66' ? '#1c1c9c' : datum.value === 'EMA(60) undef' ? '#ff0000' : '#000000'"}
                }
              },
              "labels": {
                "update": {
                  "fill": {"signal": "datum.value === 'Volume undef' ? '#555555' : datum.value === 'MA(65) 16.66' ? '#1c1c9c' : datum.value === 'EMA(60) undef' ? '#ff0000' : '#000000'"},
                  "font": {"signal": "datum.value === '$SILVER (Weekly) 17.98' ? 'DejaVu Sans Mono' : 'DejaVu Sans'"},
                  "fontSize": {"signal": "datum.value === '$SILVER (Weekly) 17.98' ? 19.5 : 17.5"}
                }
              }
            }
          }
        }
      }
    }
  ],
  "config": {
    "view": {"stroke": "#a0a0a0", "strokeWidth": 1.5, "strokeDash": [2, 1.5]},
    "axis": {"gridColor": "#c6c6c6"}
  }
}
